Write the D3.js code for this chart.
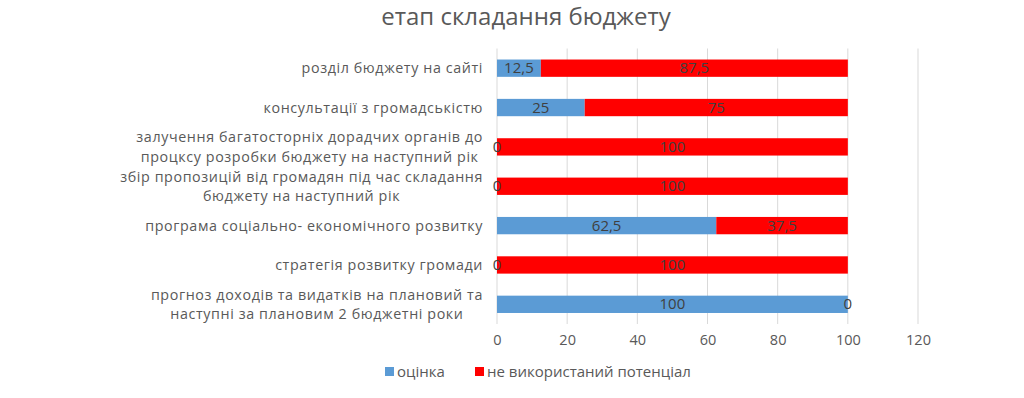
<!DOCTYPE html>
<head>
	<meta charset="utf-8">
	<style>
		body {margin: 0; background: #fff;}
		text {font-family: "Open Sans", sans-serif;}
	</style>
	<script src="https://d3js.org/d3.v7.min.js" charset="utf-8"></script>
</head>
<body>
	<script>
		// categories, top to bottom
		var categories = [
			["розділ бюджету на сайті"],
			["консультації з громадськістю"],
			["залучення багатосторніх дорадчих органів до", "процксу розробки бюджету на наступний рік"],
			["збір пропозицій від громадян під час складання", "бюджету на наступний рік"],
			["програма соціально- економічного розвитку"],
			["стратегія розвитку громади"],
			["прогноз доходів та видатків на плановий та", "наступні за плановим 2 бюджетні роки"]
		];
		var ocinka = [12.5, 25, 0, 0, 62.5, 0, 100];
		var potencial = [87.5, 75, 100, 100, 37.5, 100, 0];
		var seriesNames = ["оцінка", "не використаний потенціал"];
		var colors = ["#5b9bd5", "#ff0000"];
		var xTicks = [0, 20, 40, 60, 80, 100, 120];

		var width = 1024, height = 398;
		var margin = {top: 48.5, right: 106, bottom: 74, left: 497};

		var svg = d3.select("body").append("svg")
			.attr("width", width)
			.attr("height", height);

		svg.append("text")
			.attr("x", 526).attr("y", 25)
			.attr("text-anchor", "middle")
			.attr("font-size", "24px")
			.attr("fill", "#595959")
			.text("етап складання бюджету");

		var x = d3.scaleLinear().domain([0, 120]).range([margin.left, width - margin.right]);
		var y = d3.scaleBand().domain(d3.range(categories.length))
			.range([margin.top, height - margin.bottom]).paddingInner(0.56).paddingOuter(0.28);

		// grid
		svg.append("g").selectAll("line").data(xTicks).enter().append("line")
			.attr("x1", function(d){return x(d);}).attr("x2", function(d){return x(d);})
			.attr("y1", margin.top).attr("y2", height - margin.bottom)
			.attr("stroke", "#d9d9d9").attr("stroke-width", 1);

		// x axis labels
		var xAxis = svg.append("g")
			.attr("transform", "translate(0," + (height - margin.bottom) + ")")
			.call(d3.axisBottom(x).tickValues(xTicks).tickSize(0).tickPadding(11));
		xAxis.select(".domain").remove();
		xAxis.selectAll("text").attr("font-size", "14.5px").attr("fill", "#595959")
			.attr("font-family", "Open Sans, sans-serif");

		var rows = categories.map(function(c, i){
			return {i: i, a: ocinka[i], b: potencial[i]};
		});

		// bars
		var bh = y.bandwidth();
		svg.append("g").selectAll("rect").data(rows).enter().append("rect")
			.attr("x", function(d){return x(0);})
			.attr("y", function(d){return y(d.i);})
			.attr("width", function(d){return x(d.a) - x(0);})
			.attr("height", bh)
			.attr("fill", colors[0]);
		svg.append("g").selectAll("rect").data(rows).enter().append("rect")
			.attr("x", function(d){return x(d.a);})
			.attr("y", function(d){return y(d.i);})
			.attr("width", function(d){return x(d.a + d.b) - x(d.a);})
			.attr("height", bh)
			.attr("fill", colors[1]);

		// data labels
		function fmt(v){return String(v).replace(".", ",");}
		var lab = svg.append("g").attr("font-size", "15px").attr("fill", "#404040").attr("text-anchor", "middle");
		rows.forEach(function(d){
			var cy = y(d.i) + bh / 2 + 5;
			lab.append("text").attr("x", (x(0) + x(d.a)) / 2).attr("y", cy).text(fmt(d.a));
			lab.append("text").attr("x", (x(d.a) + x(d.a + d.b)) / 2).attr("y", cy).text(fmt(d.b));
		});

		// category labels: lines centered among themselves, block right-aligned
		var catG = svg.append("g").attr("font-size", "14.3px").attr("letter-spacing", "0.6px").attr("fill", "#595959");
		var rightEdge = margin.left - 14, lineH = 19.5;
		categories.forEach(function(lines, i){
			var cy = y(i) + bh / 2;
			var g = catG.append("g");
			var texts = lines.map(function(l, k){
				return g.append("text")
					.attr("y", cy + (k - (lines.length - 1) / 2) * lineH + 5)
					.attr("text-anchor", "middle")
					.text(l);
			});
			var maxW = d3.max(texts, function(t){return t.node().getComputedTextLength();});
			texts.forEach(function(t){t.attr("x", rightEdge - maxW / 2);});
		});

		// legend
		var leg = svg.append("g").attr("font-size", "15px").attr("fill", "#595959");
		var legX = [385, 475];
		seriesNames.forEach(function(n, i){
			leg.append("rect").attr("x", legX[i]).attr("y", 367).attr("width", 9).attr("height", 9).attr("fill", colors[i]);
			leg.append("text").attr("x", legX[i] + 12).attr("y", 377).text(n);
		});
	</script>
</body>
</html>
